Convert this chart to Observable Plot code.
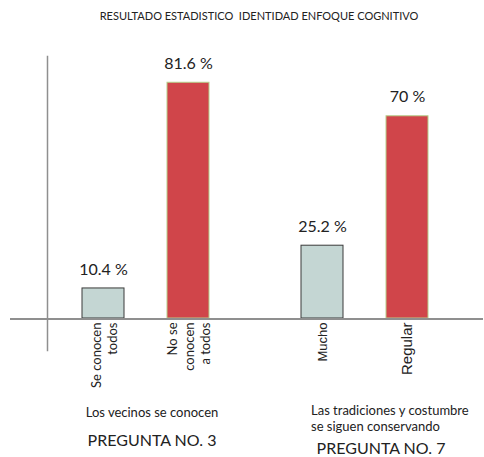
<!DOCTYPE html>
<html>
<head>
<meta charset="utf-8">
<script src="https://cdn.jsdelivr.net/npm/d3@7"></script>
<script src="https://cdn.jsdelivr.net/npm/@observablehq/plot@0.6"></script>
<style>
  html, body { margin: 0; padding: 0; background: #fff; }
  #title {
    box-sizing: border-box; width: 484px; height: 28px;
    padding-top: 9px; padding-left: 34px; text-align: center;
    font-family: "Liberation Sans Narrow", "Lato", sans-serif; font-size: 11px; line-height: 13px;
    color: #222; white-space: pre;
  }
  #chart svg { display: block; }
</style>
</head>
<body>
<div id="title">RESULTADO ESTADISTICO  IDENTIDAD ENFOQUE COGNITIVO</div>
<div id="chart"></div>
<script>
// ---- data ----
const questions = ["PREGUNTA NO. 3", "PREGUNTA NO. 7"];
const descriptions = ["Los vecinos se conocen", "Las tradiciones y costumbre\nse siguen conservando"];
const answers = ["Se conocen\ntodos", "No se\nconocen\na todos", "Mucho", "Regular"];
const answerQuestion = ["PREGUNTA NO. 3", "PREGUNTA NO. 3", "PREGUNTA NO. 7", "PREGUNTA NO. 7"];
const answerGroup = ["A", "B", "A", "B"];
const values = [10.4, 81.6, 25.2, 70];
const valueLabels = ["10.4 %", "81.6 %", "25.2 %", "70 %"];

const bars = answers.map((a, i) => ({
  answer: a, question: answerQuestion[i], group: answerGroup[i], value: values[i], label: valueLabels[i]
}));
const qrows = questions.map((q, i) => ({question: q, description: descriptions[i]}));

const myriad = "Lato, 'Open Sans', sans-serif";
const arial = "'Liberation Sans', Arial, sans-serif";

const plot = Plot.plot({
  width: 484, height: 429,
  marginLeft: 47, marginRight: 20, marginTop: 30, marginBottom: 139,
  fx: {domain: questions, paddingInner: 0.1, paddingOuter: 0, axis: null},
  x: {domain: ["A", "B"], paddingInner: 0.506, paddingOuter: 0.41, axis: null},
  y: {domain: [0, 90], axis: null},
  marks: [
    Plot.barY(bars.filter(d => d.group === "A"), {fx: "question", x: "group", y: "value", fill: "#c4d6d3", stroke: "#3a3a3a", strokeWidth: 1}),
    Plot.barY(bars.filter(d => d.group === "B"), {fx: "question", x: "group", y: "value", fill: "#d0454a", stroke: "#b5cf8a", strokeWidth: 1}),
    Plot.ruleY([0], {stroke: "#8f8f8f", strokeWidth: 2, shapeRendering: "crispEdges", insetLeft: -37, insetRight: -20}),
    Plot.frame({anchor: "left", facet: "super", stroke: "#8f8f8f", strokeWidth: 1.5, insetBottom: -32, insetTop: -2}),
    Plot.text(bars, {fx: "question", x: "group", y: "value", text: "label", dy: -19, fontSize: 16, fontFamily: myriad, fill: "#222"}),
    Plot.text(bars.filter(d => d.question === questions[0]), {fx: "question", x: "group", frameAnchor: "bottom", text: "answer", rotate: -90, textAnchor: "end", lineAnchor: "middle", dy: 4, fontSize: 13, fontFamily: myriad, fill: "#222", lineHeight: 1.25}),
    Plot.text(bars.filter(d => d.question === questions[1]), {fx: "question", x: "group", frameAnchor: "bottom", text: "answer", rotate: -90, textAnchor: "end", lineAnchor: "middle", dy: 4, fontSize: d => d.answer === "Regular" ? 15 : 13, fontFamily: arial, fill: "#222"}),
    Plot.text(qrows.filter(d => d.question === questions[0]), {fx: "question", frameAnchor: "bottom", text: "description", dx: 6, dy: 98, fontSize: 13, fontFamily: myriad, fill: "#222"}),
    Plot.text(qrows.filter(d => d.question === questions[0]), {fx: "question", frameAnchor: "bottom", text: "question", dx: 6, dy: 127, fontSize: 16, fontFamily: myriad, fill: "#222"}),
    Plot.text(qrows.filter(d => d.question === questions[1]), {fx: "question", frameAnchor: "bottom", text: "description", textAnchor: "start", lineAnchor: "top", dx: -54, dy: 85, fontSize: 13, fontFamily: myriad, fill: "#222", lineHeight: 1.25}),
    Plot.text(qrows.filter(d => d.question === questions[1]), {fx: "question", frameAnchor: "bottom", text: "question", dx: 16, dy: 135, fontSize: 16, fontFamily: myriad, fill: "#222"})
  ]
});
document.getElementById("chart").appendChild(plot);
</script>
</body>
</html>
